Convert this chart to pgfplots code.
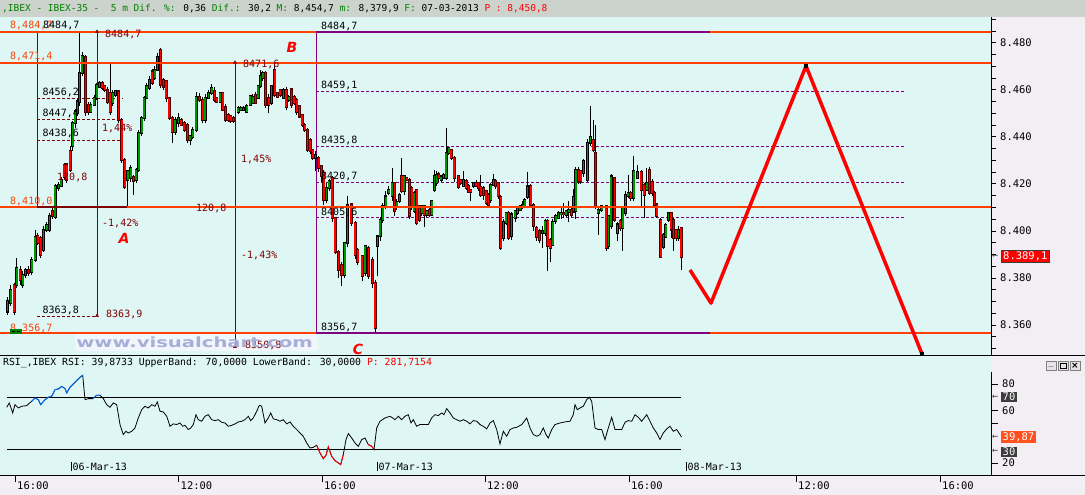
\documentclass[border=0pt]{standalone}
\usepackage{fontspec}
\setmainfont{DejaVu Sans}
\newfontfamily\mono{DejaVu Sans Mono}
\usepackage{pgfplots}
\usepackage{pgfplotstable}
\pgfplotsset{compat=1.18}

\definecolor{bgc}{RGB}{222,246,244}
\definecolor{marg}{RGB}{243,238,243}
\definecolor{hdr}{RGB}{204,210,204}
\definecolor{hgreen}{RGB}{0,128,0}
\definecolor{cgreen}{RGB}{0,150,0}
\definecolor{orl}{RGB}{255,64,0}
\definecolor{dred}{RGB}{128,0,0}
\definecolor{purp}{RGB}{128,0,128}
\definecolor{wm}{RGB}{168,174,214}
\definecolor{wmbg}{RGB}{240,246,252}
\definecolor{rsiblue}{RGB}{0,110,255}
\definecolor{boxgray}{RGB}{60,60,60}
\definecolor{rsiorange}{RGB}{255,80,30}

\newcommand\fs[1]{\fontsize{#1}{#1}\selectfont}
\newcommand\lbl[4]{\node[anchor=west,inner sep=0pt,font=\mono\fs{10},text=#3] at (#1pt,-#2pt) {#4};}

% 5 min candles: x position, open, high, low, close
\pgfplotstableread{
x o h l c
7.3 8365.8 8372.2 8364.4 8370.1
10.7 8369.4 8377.0 8368.0 8375.1
14.0 8377.2 8378.0 8364.5 8365.8
16.7 8377.2 8388.5 8376.0 8384.3
20.0 8383.5 8385.0 8377.0 8379.3
22.7 8377.2 8383.0 8376.0 8381.4
25.3 8381.4 8384.5 8380.0 8383.5
28.3 8383.5 8385.0 8381.0 8382.1
31.7 8382.8 8389.0 8381.5 8387.8
35.0 8387.8 8400.5 8387.0 8397.7
37.7 8397.7 8399.0 8394.0 8394.9
40.7 8397.0 8398.0 8388.5 8389.9
43.3 8392.0 8402.0 8391.0 8400.5
46.7 8400.5 8404.0 8399.5 8402.7
49.3 8400.5 8407.5 8399.5 8406.2
52.3 8408.4 8410.0 8405.0 8406.2
55.0 8406.2 8420.0 8405.0 8419.0
58.3 8418.3 8421.0 8417.0 8419.7
61.0 8419.0 8423.0 8418.5 8421.8
64.0 8428.2 8429.0 8422.0 8423.2
66.7 8428.2 8429.0 8420.5 8421.8
70.0 8434.0 8436.0 8425.0 8426.0
72.7 8436.0 8447.0 8434.0 8445.9
75.0 8445.9 8452.0 8444.0 8450.8
77.3 8450.0 8456.0 8449.0 8455.0
79.3 8455.0 8484.7 8453.0 8467.1
82.0 8467.1 8476.0 8466.0 8474.2
85.3 8474.2 8475.0 8449.0 8450.8
88.3 8453.7 8455.0 8449.5 8450.8
90.7 8450.8 8455.0 8450.0 8453.7
94.0 8453.7 8458.0 8453.0 8456.5
96.7 8456.5 8463.0 8455.5 8462.2
99.3 8461.5 8464.0 8461.0 8462.9
102.0 8462.9 8464.0 8460.0 8460.8
104.7 8461.5 8462.0 8459.0 8460.1
107.3 8460.1 8461.0 8454.0 8455.1
110.0 8458.6 8471.0 8449.5 8450.8
112.7 8454.4 8460.0 8453.0 8458.6
115.3 8458.0 8460.0 8457.0 8459.4
118.3 8459.4 8460.0 8446.0 8447.3
121.7 8447.3 8448.0 8429.0 8430.3
124.7 8430.3 8431.0 8418.0 8419.0
127.7 8421.8 8426.0 8410.5 8425.3
130.7 8422.5 8428.0 8421.0 8426.8
133.3 8423.0 8424.0 8415.4 8421.1
136.0 8421.8 8427.0 8420.5 8426.0
138.7 8426.0 8443.0 8425.0 8441.6
141.7 8441.6 8449.0 8440.5 8448.0
144.0 8448.0 8457.5 8447.0 8456.5
146.7 8456.5 8463.0 8456.0 8461.5
149.3 8460.8 8466.0 8460.0 8464.3
152.0 8467.8 8469.0 8462.0 8462.9
154.7 8465.0 8470.0 8464.0 8468.5
157.3 8468.5 8475.5 8468.0 8474.2
160.3 8477.0 8478.0 8461.0 8462.2
163.3 8464.3 8465.0 8460.0 8461.5
166.0 8463.6 8464.5 8455.0 8456.5
169.0 8456.5 8457.0 8447.0 8448.0
172.0 8448.0 8449.0 8437.4 8442.3
175.0 8442.3 8448.5 8441.0 8447.3
178.3 8445.9 8450.0 8444.0 8448.0
181.0 8447.3 8448.0 8444.5 8445.2
184.0 8445.9 8447.0 8442.0 8443.0
187.3 8445.2 8446.0 8437.5 8438.8
190.0 8438.8 8441.0 8436.6 8440.2
192.7 8440.2 8444.0 8439.0 8443.0
196.0 8443.0 8459.0 8442.0 8457.2
199.3 8457.2 8458.5 8455.0 8455.8
202.7 8455.8 8457.0 8446.0 8447.3
205.0 8447.3 8458.0 8446.0 8456.5
208.3 8456.5 8460.0 8456.0 8458.6
211.7 8458.6 8462.5 8458.0 8460.8
214.3 8459.4 8461.0 8455.0 8455.8
216.7 8456.5 8457.0 8454.5 8455.1
220.0 8455.1 8459.0 8454.5 8458.6
222.7 8458.6 8459.0 8451.0 8451.6
225.3 8453.0 8454.0 8446.5 8447.3
228.0 8449.4 8450.0 8446.5 8447.3
230.7 8448.7 8449.5 8446.0 8446.6
233.3 8448.0 8449.0 8446.0 8446.6
238.0 8450.8 8453.0 8450.0 8452.3
240.7 8451.6 8453.0 8451.0 8452.3
243.3 8451.6 8453.0 8451.0 8452.3
246.7 8450.8 8454.0 8450.0 8453.0
250.0 8453.7 8458.0 8453.0 8457.2
252.7 8454.4 8458.0 8454.0 8457.2
255.3 8458.0 8459.0 8454.0 8454.4
258.0 8456.5 8462.0 8456.0 8461.5
260.3 8461.5 8468.5 8461.0 8465.7
262.7 8465.0 8468.0 8464.0 8467.1
265.3 8467.1 8468.0 8452.3 8453.7
268.7 8456.5 8458.0 8450.0 8453.7
271.3 8454.4 8462.0 8453.5 8461.5
274.7 8468.5 8471.6 8457.0 8457.9
277.3 8458.6 8459.0 8456.5 8457.2
280.0 8460.0 8460.5 8457.0 8458.0
283.3 8456.5 8461.0 8456.0 8460.0
286.0 8460.1 8461.0 8451.6 8453.0
288.7 8455.8 8458.0 8455.0 8457.2
291.3 8460.1 8461.0 8452.3 8453.7
294.0 8457.2 8458.0 8453.5 8454.4
296.7 8455.8 8456.5 8449.4 8450.8
299.3 8453.0 8453.5 8448.0 8448.7
302.0 8449.4 8450.0 8444.5 8445.2
304.7 8445.2 8446.0 8442.0 8443.0
307.3 8443.0 8444.0 8433.5 8434.5
310.0 8438.8 8439.5 8433.0 8433.8
312.7 8434.5 8435.0 8430.0 8431.0
315.3 8431.0 8434.0 8425.3 8432.4
318.7 8431.0 8432.0 8425.0 8426.8
321.3 8427.5 8428.0 8421.0 8423.2
323.7 8424.6 8426.0 8411.0 8413.3
326.3 8413.3 8420.5 8412.0 8418.3
329.0 8418.3 8422.0 8417.0 8421.1
332.0 8422.5 8423.5 8404.0 8405.5
335.0 8405.5 8406.0 8390.0 8391.3
338.3 8391.3 8392.0 8380.0 8383.5
341.7 8385.7 8387.0 8376.5 8381.4
344.7 8381.4 8395.5 8380.0 8394.9
347.3 8394.9 8414.7 8393.0 8411.2
351.0 8411.2 8412.0 8402.0 8403.4
355.0 8403.4 8404.0 8388.0 8389.9
357.7 8392.0 8393.0 8385.5 8387.0
362.0 8389.2 8390.0 8378.6 8380.7
365.0 8382.1 8394.0 8381.0 8393.5
368.3 8392.8 8393.5 8379.5 8380.7
372.3 8387.8 8389.0 8376.0 8377.9
375.0 8377.9 8379.0 8356.7 8358.8
377.3 8393.5 8398.0 8380.7 8397.7
380.0 8397.7 8406.0 8396.0 8404.8
382.7 8404.8 8412.0 8403.5 8410.5
385.7 8410.5 8417.0 8409.5 8414.7
388.7 8416.1 8419.0 8415.5 8417.5
392.0 8414.7 8426.8 8413.0 8420.4
394.3 8420.4 8421.0 8406.5 8408.4
396.7 8410.5 8413.5 8409.0 8412.6
399.3 8412.6 8416.0 8412.0 8415.4
401.7 8423.2 8431.0 8416.0 8416.8
404.0 8416.8 8424.0 8415.5 8423.2
406.7 8422.5 8423.0 8421.0 8421.8
409.3 8421.8 8422.5 8405.0 8406.2
411.7 8418.2 8419.0 8409.0 8410.5
414.0 8408.4 8417.0 8407.5 8416.1
416.7 8417.5 8418.0 8402.7 8403.4
419.3 8410.5 8411.0 8404.0 8404.8
421.7 8407.6 8411.0 8406.5 8410.5
424.0 8410.5 8411.0 8401.5 8407.0
426.7 8407.0 8409.0 8406.0 8408.4
429.3 8409.1 8410.0 8406.0 8407.0
431.7 8407.0 8413.0 8406.5 8412.6
434.3 8417.5 8426.0 8416.5 8423.2
436.7 8420.4 8425.5 8419.0 8424.0
438.7 8424.0 8425.0 8421.0 8422.5
441.0 8421.8 8424.0 8421.0 8423.2
443.3 8422.5 8424.5 8422.0 8423.9
446.0 8422.5 8443.8 8421.8 8433.1
448.7 8433.1 8436.0 8432.5 8435.3
451.0 8434.5 8435.0 8430.0 8431.0
454.0 8431.0 8432.0 8421.0 8422.5
458.3 8423.2 8424.0 8418.0 8418.9
460.7 8421.8 8422.0 8419.5 8420.4
463.3 8419.0 8425.5 8418.5 8421.8
466.0 8421.1 8422.0 8417.5 8418.2
468.3 8419.0 8420.0 8416.0 8416.8
470.7 8417.5 8418.0 8413.0 8416.8
473.3 8419.0 8421.0 8418.5 8420.4
476.0 8420.4 8421.5 8418.5 8419.0
478.3 8420.4 8421.0 8417.0 8418.2
480.7 8419.0 8423.9 8414.5 8415.4
483.3 8418.2 8419.0 8413.0 8415.4
486.0 8416.8 8417.5 8411.0 8411.9
488.3 8415.4 8416.0 8410.0 8411.2
490.7 8413.3 8420.5 8412.0 8419.7
493.3 8419.7 8424.0 8419.0 8421.8
495.3 8421.1 8422.0 8418.0 8419.0
498.0 8420.4 8421.0 8413.5 8414.7
500.7 8414.7 8415.5 8392.0 8392.8
503.3 8397.0 8405.0 8396.0 8404.1
506.0 8403.4 8408.0 8402.5 8407.6
508.3 8407.6 8408.5 8396.3 8397.0
511.5 8397.7 8408.0 8396.3 8407.0
515.0 8405.5 8409.0 8404.0 8408.4
517.3 8407.6 8410.5 8407.0 8409.8
520.0 8409.1 8411.0 8408.5 8410.5
522.7 8410.5 8413.0 8409.5 8411.2
524.7 8410.5 8414.0 8410.0 8413.3
527.3 8414.7 8425.3 8413.5 8419.0
530.7 8419.0 8420.0 8410.5 8411.2
533.3 8411.2 8412.0 8400.0 8402.0
536.7 8401.3 8402.0 8396.0 8397.7
539.3 8400.0 8401.0 8395.0 8396.3
542.3 8399.1 8402.0 8393.0 8400.0
545.0 8399.1 8405.0 8398.0 8404.1
547.7 8404.1 8405.0 8383.0 8393.5
550.0 8396.3 8397.0 8387.0 8392.8
552.7 8394.2 8405.0 8393.5 8404.1
555.7 8404.1 8407.0 8403.0 8406.2
558.3 8405.5 8408.5 8405.0 8407.6
561.0 8407.0 8410.0 8405.0 8407.6
563.3 8407.6 8412.0 8405.5 8407.0
566.0 8407.0 8409.0 8406.0 8408.4
568.7 8408.0 8413.0 8404.0 8409.1
571.3 8409.1 8410.0 8406.0 8407.0
573.3 8408.4 8418.0 8407.6 8414.7
575.7 8408.4 8427.0 8405.0 8426.1
578.3 8426.1 8427.0 8420.0 8421.1
580.7 8425.3 8426.0 8420.0 8421.1
583.3 8424.6 8430.5 8423.0 8429.6
587.3 8421.8 8439.0 8421.0 8437.4
590.3 8437.4 8453.0 8436.0 8440.2
593.0 8438.8 8447.3 8433.5 8434.5
595.3 8433.1 8445.0 8409.5 8410.5
598.0 8407.6 8410.0 8398.4 8409.1
601.7 8409.1 8411.0 8408.0 8410.5
606.0 8410.5 8411.0 8391.4 8392.8
608.3 8393.5 8407.0 8392.5 8406.2
611.0 8402.0 8424.0 8401.0 8423.2
614.3 8422.5 8423.0 8404.0 8404.8
617.3 8399.1 8404.0 8395.6 8402.7
620.0 8404.1 8405.0 8400.0 8401.3
622.7 8401.3 8410.5 8391.4 8409.8
625.3 8407.6 8417.0 8406.5 8415.4
628.0 8414.7 8423.9 8414.0 8416.1
630.7 8416.1 8417.0 8413.0 8414.0
633.7 8414.0 8432.0 8413.0 8425.3
637.3 8422.5 8428.0 8422.0 8425.3
641.0 8425.3 8426.0 8410.0 8417.5
644.0 8419.6 8420.5 8405.5 8415.4
646.7 8417.5 8426.8 8417.0 8420.4
649.3 8426.0 8427.0 8415.5 8416.1
652.0 8421.0 8422.0 8415.0 8416.1
654.3 8416.1 8417.0 8410.0 8411.2
656.7 8411.2 8412.0 8405.5 8406.2
660.7 8404.8 8405.5 8388.5 8389.2
663.3 8393.5 8399.0 8392.5 8398.4
665.7 8397.7 8403.5 8397.0 8402.7
668.3 8404.8 8408.0 8404.0 8407.6
671.0 8407.6 8408.0 8397.0 8400.6
673.3 8404.8 8405.5 8391.4 8397.0
676.0 8400.6 8401.0 8396.0 8397.0
678.3 8397.0 8402.0 8396.0 8400.6
681.0 8401.3 8402.0 8383.5 8389.1
}\candles

% RSI
\pgfplotstableread{
x v
6.7 62.4
9.3 65.7
12.7 58.1
15.0 64.4
18.3 61.9
21.7 63.2
26.7 63.7
31.7 67.0
35.0 69.5
38.3 68.2
40.7 64.4
45.0 68.2
48.3 70.0
51.7 70.8
55.0 75.8
58.3 76.3
61.7 78.3
65.0 76.6
66.7 73.3
70.0 77.6
73.3 80.1
76.7 82.7
80.0 85.2
82.7 86.7
85.0 68.2
88.3 69.0
92.7 69.0
96.7 71.5
100.0 71.5
103.3 69.0
106.7 64.4
110.0 62.4
113.3 65.7
116.7 64.4
120.0 49.3
123.3 41.7
126.0 44.2
128.3 42.9
131.7 44.2
135.0 46.7
138.3 54.3
141.7 60.6
145.0 63.2
148.3 61.9
151.7 64.4
155.0 63.2
157.3 66.5
160.0 59.4
163.3 58.9
166.7 55.6
170.0 48.0
173.3 49.8
176.7 49.3
180.0 50.5
182.7 48.0
185.0 48.7
188.3 45.5
190.7 46.7
193.3 49.3
196.0 56.8
198.3 53.0
201.7 51.8
205.0 55.6
208.3 56.8
211.7 53.0
215.0 52.3
218.3 53.0
221.7 51.0
225.0 50.5
228.3 48.0
231.7 48.7
235.0 49.8
238.3 51.3
241.7 51.8
245.0 53.0
248.3 55.6
250.7 52.3
253.3 54.3
256.7 59.4
259.3 63.9
261.7 63.2
265.0 50.5
268.3 54.3
270.7 58.1
273.3 53.6
276.7 53.0
280.0 51.8
283.3 53.0
286.7 49.8
290.0 51.3
293.3 48.0
296.7 45.5
300.0 42.9
303.3 40.4
306.7 35.3
310.0 31.5
313.3 32.0
316.7 33.6
320.0 27.7
323.3 23.4
326.0 26.0
328.3 32.3
331.7 25.2
335.0 21.9
338.3 20.2
340.7 18.9
343.3 26.5
346.0 37.9
348.3 42.4
351.7 39.1
355.0 35.3
358.3 32.8
361.7 37.9
365.0 39.1
368.3 34.1
371.7 32.8
374.0 30.3
376.7 46.7
380.0 51.8
385.0 54.3
390.0 55.6
392.7 54.3
395.0 53.0
398.3 55.6
401.7 53.0
405.0 55.6
408.3 56.8
411.0 50.5
413.3 53.0
416.7 48.0
420.0 49.3
423.3 49.3
428.3 49.3
431.7 54.3
435.0 56.8
438.3 56.1
441.7 58.1
444.0 56.8
446.7 61.4
450.0 58.1
453.3 54.3
456.7 53.0
460.0 51.8
463.3 53.0
466.7 51.8
470.0 49.8
473.3 52.3
476.7 51.8
480.0 49.3
483.3 48.0
486.7 46.0
490.0 50.5
493.3 52.3
496.7 45.5
500.0 34.6
503.3 44.2
506.7 40.4
510.0 45.5
513.3 46.7
516.7 47.2
521.7 49.3
526.7 54.3
530.0 46.7
533.3 41.7
536.7 40.4
540.0 41.7
543.3 46.7
546.0 41.7
548.3 39.1
551.7 45.5
555.0 49.3
560.0 50.5
565.0 51.3
570.0 51.8
573.3 56.8
575.0 64.4
577.3 60.6
580.0 61.9
583.3 63.2
586.7 68.2
589.3 70.0
591.7 67.0
595.0 46.7
598.3 45.5
601.7 45.5
605.0 37.9
608.3 46.7
611.7 54.8
615.0 45.5
618.3 45.5
621.7 45.5
625.0 51.0
628.3 52.3
631.7 51.8
635.0 56.8
638.3 54.8
641.7 51.8
646.7 56.8
650.0 51.8
653.3 46.7
656.7 42.9
660.0 37.9
663.3 42.9
666.7 46.0
670.0 48.0
673.3 44.2
676.7 45.5
680.0 41.7
681.5 39.9
}\rsi

\begin{document}
\begin{tikzpicture}
\fill[marg] (0pt,0pt) rectangle (1085pt,-495pt);
\fill[hdr] (0pt,0pt) rectangle (1085pt,-17pt);
\fill[bgc] (0pt,-355pt) rectangle (991pt,-372pt);

% ---------- price panel ----------
\begin{axis}[
  at={(0pt,-17pt)}, anchor=north west, scale only axis,
  width=991pt, height=338pt,
  xmin=0, xmax=991, ymin=8347.25, ymax=8490.92,
  axis x line=none, axis y line*=right,
  axis line style={black, line width=1pt},
  axis background/.style={fill=bgc},
  clip=false,
  ytick={8360,8380,8400,8420,8440,8460,8480},
  yticklabels={8.360,8.380,8.400,8.420,8.440,8.460,8.480},
  minor ytick={8350,8355,...,8490},
  tick align=outside, major tick length=5pt, minor tick length=5pt,
  every tick/.style={black, line width=0.8pt},
  yticklabel style={font=\mono\fs{10.5}, anchor=west, inner sep=0pt, xshift=4pt},
]
\fill[wmbg] (axis cs:75,8356.0) rectangle (axis cs:318,8348.8);

% left retracement
\addplot[dred, line width=1pt] coordinates {(37,8484.7) (37,8410.0)};
\addplot[dred, line width=1pt, dash pattern=on 3pt off 2pt] coordinates {(37,8456.2) (123,8456.2)};
\addplot[dred, line width=1pt, dash pattern=on 3pt off 2pt] coordinates {(37,8447.4) (123,8447.4)};
\addplot[dred, line width=1pt, dash pattern=on 3pt off 2pt] coordinates {(37,8438.6) (123,8438.6)};
\addplot[dred, line width=1pt, dash pattern=on 3pt off 2pt] coordinates {(37,8363.8) (97,8363.8)};
\addplot[dred, line width=1pt] coordinates {(97,8484.7) (97,8363.9)};
\addplot[dred, line width=1pt] coordinates {(235,8471.6) (235,8350.8)};
\addplot[dred, only marks, mark=triangle*, mark size=1.8pt]
  coordinates {(97,8484.7) (97,8363.9) (235,8471.6) (235,8350.8)};

% right retracement
\addplot[purp, line width=1pt] coordinates {(316,8484.7) (316,8356.7)};
\addplot[purp, line width=1pt, dash pattern=on 3pt off 2pt] coordinates {(316,8459.1) (905,8459.1)};
\addplot[purp, line width=1pt, dash pattern=on 3pt off 2pt] coordinates {(316,8435.8) (905,8435.8)};
\addplot[purp, line width=1pt, dash pattern=on 3pt off 2pt] coordinates {(316,8420.7) (905,8420.7)};
\addplot[purp, line width=1pt, dash pattern=on 3pt off 2pt] coordinates {(316,8405.6) (905,8405.6)};

% candles: wicks
\addplot[draw=none, error bars/.cd, y dir=both, y explicit, error mark=none,
  error bar style={draw=black, line width=0.8pt}]
  table[x=x, y expr={(\thisrow{h}+\thisrow{l})/2}, y error expr={(\thisrow{h}-\thisrow{l})/2}] {\candles};
% up candles
\addplot[draw=none, restrict expr to domain={\thisrow{c}-\thisrow{o}}{0:1000},
  error bars/.cd, y dir=both, y explicit, error mark=none,
  error bar style={draw=black, line width=3pt}]
  table[x=x, y expr={(\thisrow{o}+\thisrow{c})/2}, y error expr={abs(\thisrow{c}-\thisrow{o})/2+0.45}] {\candles};
\addplot[draw=none, restrict expr to domain={\thisrow{c}-\thisrow{o}}{0:1000},
  error bars/.cd, y dir=both, y explicit, error mark=none,
  error bar style={draw=cgreen, line width=1.6pt}]
  table[x=x, y expr={(\thisrow{o}+\thisrow{c})/2}, y error expr={max(abs(\thisrow{c}-\thisrow{o})/2,0.05)}] {\candles};
% down candles
\addplot[draw=none, restrict expr to domain={\thisrow{c}-\thisrow{o}}{-1000:-0.01},
  error bars/.cd, y dir=both, y explicit, error mark=none,
  error bar style={draw=dred!60!black, line width=3pt}]
  table[x=x, y expr={(\thisrow{o}+\thisrow{c})/2}, y error expr={abs(\thisrow{c}-\thisrow{o})/2+0.45}] {\candles};
\addplot[draw=none, restrict expr to domain={\thisrow{c}-\thisrow{o}}{-1000:-0.01},
  error bars/.cd, y dir=both, y explicit, error mark=none,
  error bar style={draw=red, line width=1.6pt}]
  table[x=x, y expr={(\thisrow{o}+\thisrow{c})/2}, y error expr={max(abs(\thisrow{c}-\thisrow{o})/2,0.05)}] {\candles};

% horizontal levels, on top
\addplot[color=orl, solid, line width=2pt] coordinates {(0,8484.7) (991,8484.7)};
\addplot[color=orl, solid, line width=2pt] coordinates {(0,8471.4) (991,8471.4)};
\addplot[color=orl, solid, line width=2pt] coordinates {(0,8410.0) (991,8410.0)};
\addplot[color=orl, solid, line width=2pt] coordinates {(0,8356.7) (991,8356.7)};
\addplot[dred, line width=2pt] coordinates {(37,8410.0) (127,8410.0)};
\addplot[purp, line width=2pt] coordinates {(316,8484.7) (710,8484.7)};
\addplot[purp, line width=2pt] coordinates {(316,8356.7) (710,8356.7)};

% projected path
\addplot[red, line width=3.5pt, line join=round] coordinates {(690,8383.4) (711,8369.3) (806,8470.1) (922,8347.7)};
\addplot[black, only marks, mark=square*, mark size=1.5pt] coordinates {(806,8470.1) (922,8347.7)};
\end{axis}

% ---------- RSI panel ----------
\begin{axis}[
  at={(0pt,-372pt)}, anchor=north west, scale only axis,
  width=991pt, height=103pt,
  xmin=0, xmax=991, ymin=11, ymax=89.2,
  axis x line*=bottom, axis y line*=right,
  axis line style={black, line width=1pt},
  axis background/.style={fill=bgc},
  clip=false,
  xtick={15,178.5,322,485,629,796,940}, xticklabels={},
  ytick={20,50,60,80}, yticklabels={20,,60,80},
  tick align=outside, major tick length=7pt,
  every tick/.style={black, line width=0.8pt},
  yticklabel style={font=\mono\fs{10.5}, anchor=west, inner sep=0pt, xshift=4pt},
]
\addplot[black, line width=1pt] coordinates {(7,70) (681,70)};
\addplot[black, line width=1pt] coordinates {(7,30) (681,30)};
\addplot[black, line width=0.8pt] table[x=x, y=v] {\rsi};
\addplot[rsiblue, line width=0.9pt] coordinates {(31.7,67.0) (35.0,69.5) (38.3,68.2) (40.7,64.4) (45.0,68.2) (48.3,70.0) (51.7,70.8) (55.0,75.8) (58.3,76.3) (61.7,78.3) (65.0,76.6) (66.7,73.3) (70.0,77.6) (73.3,80.1) (76.7,82.7) (80.0,85.2) (82.7,86.7)};
\addplot[rsiblue, line width=0.9pt] coordinates {(92.7,69.0) (96.7,71.5) (100.0,71.5)};
\addplot[red, line width=0.9pt] coordinates {(316.7,33.6) (320.0,27.7) (323.3,23.4) (326.0,26.0) (328.3,32.3) (331.7,25.2) (335.0,21.9) (338.3,20.2) (340.7,18.9) (343.3,26.5)};
\addplot[red, line width=0.9pt] coordinates {(368.3,34.1) (371.7,32.8) (374.0,30.3)};
\end{axis}

% separators
\draw[black, line width=1pt] (0pt,-355pt) -- (1085pt,-355pt);
\draw[black, line width=1pt] (0pt,-475pt) -- (1085pt,-475pt);

% header
\node[anchor=west, inner sep=0pt, font=\mono\fs{9.5}] at (2pt,-8.5pt)
 {\textcolor{hgreen}{,IBEX - IBEX-35 -~~5 m Dif. \%:} 0,36 \textcolor{hgreen}{Dif.:} 30,2 \textcolor{hgreen}{M:} 8,454,7 \textcolor{hgreen}{m:} 8,379,9 \textcolor{hgreen}{F:} 07-03-2013 \textcolor{red}{P : 8,450,8}};

% price panel labels
\lbl{10}{25.5}{orl}{8,484,7}
\lbl{43}{25.5}{black}{8484,7}
\lbl{10}{56.7}{orl}{8,471,4}
\lbl{42.5}{92}{black}{8456,2}
\lbl{42.5}{113}{black}{8447,4}
\lbl{42.5}{133}{black}{8438,6}
\lbl{57}{177}{dred}{120,8}
\lbl{10}{201.7}{orl}{8,410,0}
\lbl{102}{223}{dred}{-1,42\%}
\lbl{42.5}{310}{black}{8363,8}
\lbl{10}{328}{orl}{8,356,7}
\lbl{105}{34}{dred}{8484,7}
\lbl{102}{128.5}{dred}{1,44\%}
\lbl{106}{314}{dred}{8363,9}
\lbl{243}{64}{dred}{8471,6}
\lbl{241}{160}{dred}{1,45\%}
\lbl{196}{208}{dred}{120,8}
\lbl{241}{255}{dred}{-1,43\%}
\lbl{245}{345}{dred}{8350,8}
\lbl{321}{26}{black}{8484,7}
\lbl{321}{85}{black}{8459,1}
\lbl{321}{140}{black}{8435,8}
\lbl{321}{176}{black}{8420,7}
\lbl{321}{212}{black}{8405,6}
\lbl{321}{327}{black}{8356,7}
\fill[hgreen] (10pt,-328.5pt) rectangle (22pt,-333.5pt);
\draw[black, line width=0.6pt] (12pt,-331pt) -- (15pt,-331pt) (17pt,-331pt) -- (20pt,-331pt);

\node[font=\bfseries\fs{14}, text=wm, xscale=1.4, inner sep=0pt, anchor=west] at (76pt,-342pt) {www.visualchart.com};

\node[font=\bfseries\itshape\fs{14}, text=red] at (124pt,-238pt) {A};
\node[font=\bfseries\itshape\fs{14}, text=red] at (292pt,-47pt) {B};
\node[font=\bfseries\itshape\fs{14}, text=red] at (358pt,-349pt) {C};

% last price box
\node[anchor=west, inner sep=0pt, font=\mono\fs{10}, text=boxgray] at (992pt,-256.5pt) {←};
\node[anchor=west, fill=red, draw=boxgray, text=white, inner xsep=2pt, inner ysep=1.5pt, font=\mono\fs{10.5}] at (1001pt,-256.5pt) {8.389,1};

% RSI header and boxes
\node[anchor=west, inner sep=0pt, font=\mono\fs{9.8}] at (3pt,-363pt)
 {RSI\_,IBEX RSI: 39,8733 UpperBand: 70,0000 LowerBand: 30,0000 \textcolor{red}{P: 281,7154}};
\node[anchor=west, inner sep=0pt, font=\mono\fs{10}, text=boxgray] at (992pt,-397pt) {←};
\node[anchor=west, inner sep=0pt, font=\mono\fs{10}, text=boxgray] at (992pt,-437pt) {←};
\node[anchor=west, inner sep=0pt, font=\mono\fs{10}, text=boxgray] at (992pt,-451.5pt) {←};
\node[anchor=west, fill=boxgray, text=white, inner xsep=1.5pt, inner ysep=1.5pt, font=\mono\fs{10.5}] at (1001pt,-397pt) {70};
\node[anchor=west, fill=boxgray, text=white, inner xsep=1.5pt, inner ysep=1.5pt, font=\mono\fs{10.5}] at (1001pt,-452pt) {30};
\node[anchor=west, fill=rsiorange, text=white, inner xsep=1.5pt, inner ysep=1.5pt, font=\mono\fs{10.5}] at (1001pt,-437pt) {39,87};

% window buttons
\foreach \bx in {1046,1058,1070}{
  \draw[fill=gray!20, draw=gray] (\bx pt,-361pt) rectangle ++(10pt,-9pt);
}
\node[font=\mono\fs{8}, inner sep=0pt] at (1051pt,-366pt) {\_};
\draw[black, line width=0.8pt] (1060pt,-363pt) rectangle (1066pt,-368.5pt);
\node[font=\bfseries\fs{9}, inner sep=0pt] at (1075pt,-365.5pt) {×};

% dates
\foreach \dx/\dl in {71/06-Mar-13,377/07-Mar-13,686/08-Mar-13}{
  \draw[black, line width=0.8pt] (\dx pt,-462pt) -- (\dx pt,-471pt);
  \node[anchor=west, inner sep=0pt, font=\mono\fs{10}] at (\dx pt+1.5pt,-466.5pt) {\dl};
}
% times
\foreach \tx/\tl in {15/16:00,178.5/12:00,322/16:00,485/12:00,629/16:00,796/12:00,940/16:00}{
  \node[anchor=west, inner sep=0pt, font=\mono\fs{10.5}] at (\tx pt+2pt,-486pt) {\tl};
}

\pgfresetboundingbox
\useasboundingbox (0pt,0pt) rectangle (1085pt,-495pt);
\end{tikzpicture}
\end{document}
